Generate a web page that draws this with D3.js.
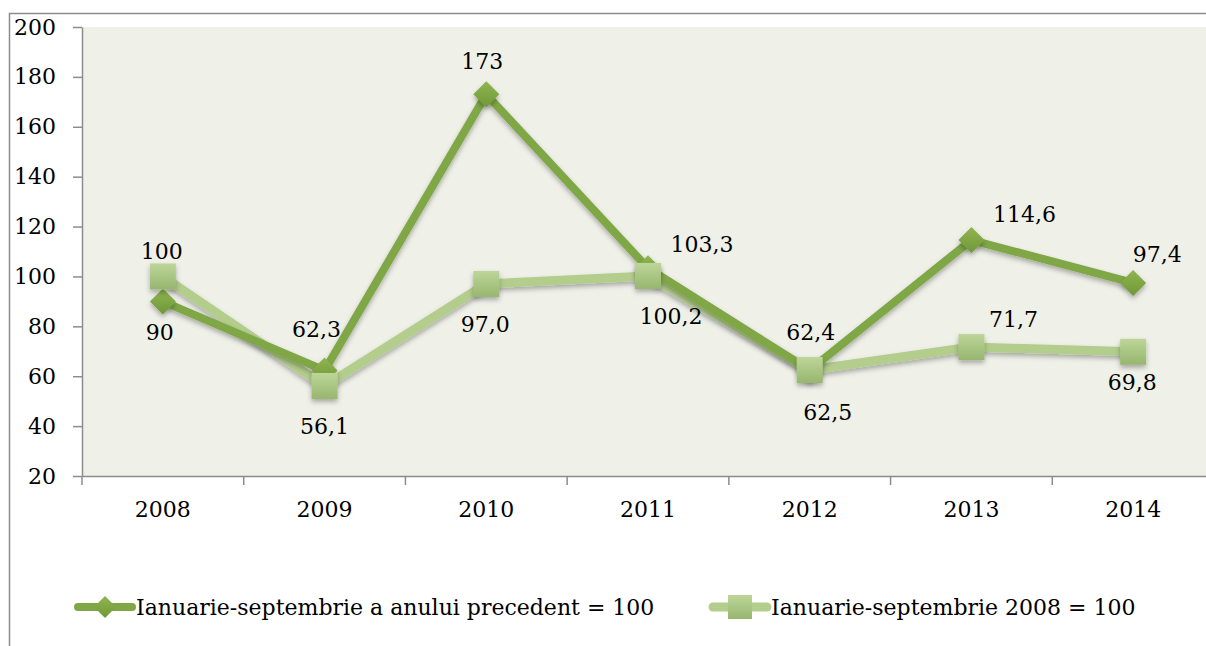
<!DOCTYPE html>
<html><head><meta charset="utf-8">
<script src="https://cdn.jsdelivr.net/npm/d3@7"></script>
<style>body{margin:0;background:#fff}svg{display:block}</style>
</head><body>
<script>
const years = ["2008","2009","2010","2011","2012","2013","2014"];
const seriesNames = ["Ianuarie-septembrie a anului precedent = 100","Ianuarie-septembrie 2008 = 100"];
const prevYear = [90, 62.3, 173, 103.3, 62.4, 114.6, 97.4];
const prevYearLabels = ["90","62,3","173","103,3","62,4","114,6","97,4"];
const base2008 = [100, 56.1, 97.0, 100.2, 62.5, 71.7, 69.8];
const base2008Labels = ["100","56,1","97,0","100,2","62,5","71,7","69,8"];
const yTicks = [20,40,60,80,100,120,140,160,180,200];

// ---- layout / style (not data) ----
// label nudges relative to the marker: [dx, dy] of label centre, px
const prevYearNudge = [[-3,31],[-8,-41],[-4,-33],[54,-24],[1,-38],[53,-26],[24,-29]];
const base2008Nudge = [[-1,-25],[0,40],[-1,40],[23,40],[18,42],[42,-28],[-1,30]];

const W=1206,H=646;
const svg=d3.select("body").append("svg").attr("width",W).attr("height",H);
const font="'DejaVu Serif', serif", fs=22;
const defs=svg.append("defs");
const f=defs.append("filter").attr("id","sh").attr("x","-50%").attr("y","-50%").attr("width","200%").attr("height","200%");
f.append("feDropShadow").attr("dx",0).attr("dy",3).attr("stdDeviation",2.5).attr("flood-color","#000").attr("flood-opacity",0.3);
const g1=defs.append("linearGradient").attr("id","gd").attr("x1",0).attr("y1",0).attr("x2",0).attr("y2",1);
g1.append("stop").attr("offset",0).attr("stop-color","#8fb54e");
g1.append("stop").attr("offset",1).attr("stop-color","#6f9838");
const g2=defs.append("linearGradient").attr("id","gl").attr("x1",0).attr("y1",0).attr("x2",0).attr("y2",1);
g2.append("stop").attr("offset",0).attr("stop-color","#bcd699");
g2.append("stop").attr("offset",1).attr("stop-color","#97b66e");

// outer frame
svg.append("path").attr("d",`M9.5,${H} V13.5 H${W}`).attr("fill","none").attr("stroke","#8c8c8c").attr("stroke-width",1.5);

const pL=82, pT=27, pB=476, pR=1214;
const x=d3.scaleBand().domain(years).range([pL,pR]);
const y=d3.scaleLinear().domain([20,200]).range([pB,pT]);
svg.append("rect").attr("x",pL).attr("y",pT).attr("width",W-pL).attr("height",pB-pT).attr("fill","#eff1e9");

const ya=svg.append("g").attr("transform",`translate(${pL},0)`).call(d3.axisLeft(y).tickValues(yTicks).tickSize(9).tickPadding(17).tickSizeOuter(0));
ya.select(".domain").attr("stroke","#8c8c8c").attr("stroke-width",1.5);
ya.selectAll(".tick line").attr("stroke","#8c8c8c").attr("stroke-width",1.5);
ya.selectAll("text").attr("font-family",font).attr("font-size",fs).attr("fill","#000");

const xa=svg.append("g").attr("transform",`translate(0,${pB})`).call(d3.axisBottom(x).tickSize(0).tickPadding(25));
xa.select(".domain").attr("stroke","#8c8c8c").attr("stroke-width",1.5);
xa.selectAll("text").attr("font-family",font).attr("font-size",fs).attr("fill","#000");
const bounds=years.map(d=>x(d)).concat([pR]);
xa.selectAll(".bt").data(bounds).enter().append("line").attr("x1",d=>d).attr("x2",d=>d).attr("y1",0).attr("y2",9).attr("stroke","#8c8c8c").attr("stroke-width",1.5);

const cx=d=>x(d)+x.bandwidth()/2;
const line=d3.line().x((d,i)=>cx(years[i])).y(d=>y(d));

function diamond(sel,s){sel.attr("d",`M0,${-s}L${s},0L0,${s}L${-s},0Z`);}
function drawLine(vals,color,w){
  svg.append("path").datum(vals).attr("d",line).attr("fill","none").attr("stroke",color).attr("stroke-width",w).attr("stroke-linejoin","round").attr("filter","url(#sh)");
}
function drawMarkers(vals,grad,shape){
  const m=svg.append("g").selectAll("path").data(vals).enter().append("path")
    .attr("transform",(d,i)=>`translate(${cx(years[i])},${y(d)})`).attr("fill",`url(#${grad})`).attr("filter","url(#sh)");
  if(shape==="d") m.call(diamond,13);
  else m.attr("d","M-13,-13H13V13H-13Z");
}
drawLine(base2008,"#b3cd8d",9);
drawLine(prevYear,"#7fa745",8);
drawMarkers(prevYear,"gd","d");
drawMarkers(base2008,"gl","s");

function labels(vals,labs,nudge){
  svg.append("g").selectAll("text").data(vals).enter().append("text")
    .attr("font-family",font).attr("font-size",fs).attr("fill","#000")
    .attr("text-anchor","middle").attr("dy","0.36em")
    .attr("x",(d,i)=>cx(years[i])+nudge[i][0])
    .attr("y",(d,i)=>y(d)+nudge[i][1])
    .text((d,i)=>labs[i]);
}
labels(prevYear,prevYearLabels,prevYearNudge);
labels(base2008,base2008Labels,base2008Nudge);

// legend
const lg=svg.append("g");
const items=[{x:75,c:"#7fa745",g:"gd",s:"d"},{x:710,c:"#b3cd8d",g:"gl",s:"s"}];
items.forEach((it,i)=>{
  const ly=607;
  lg.append("line").attr("x1",it.x+3).attr("x2",it.x+57).attr("y1",ly).attr("y2",ly).attr("stroke",it.c).attr("stroke-width",i?9:8).attr("stroke-linecap","round");
  const p=lg.append("path").attr("transform",`translate(${it.x+30},${ly})`).attr("fill",`url(#${it.g})`);
  if(it.s==="d") p.call(diamond,11); else p.attr("d","M-12,-12H12V12H-12Z");
  lg.append("text").attr("x",it.x+61).attr("y",ly).attr("dy","0.36em").attr("font-family",font).attr("font-size",fs).text(seriesNames[i]);
});
</script>
</body></html>
